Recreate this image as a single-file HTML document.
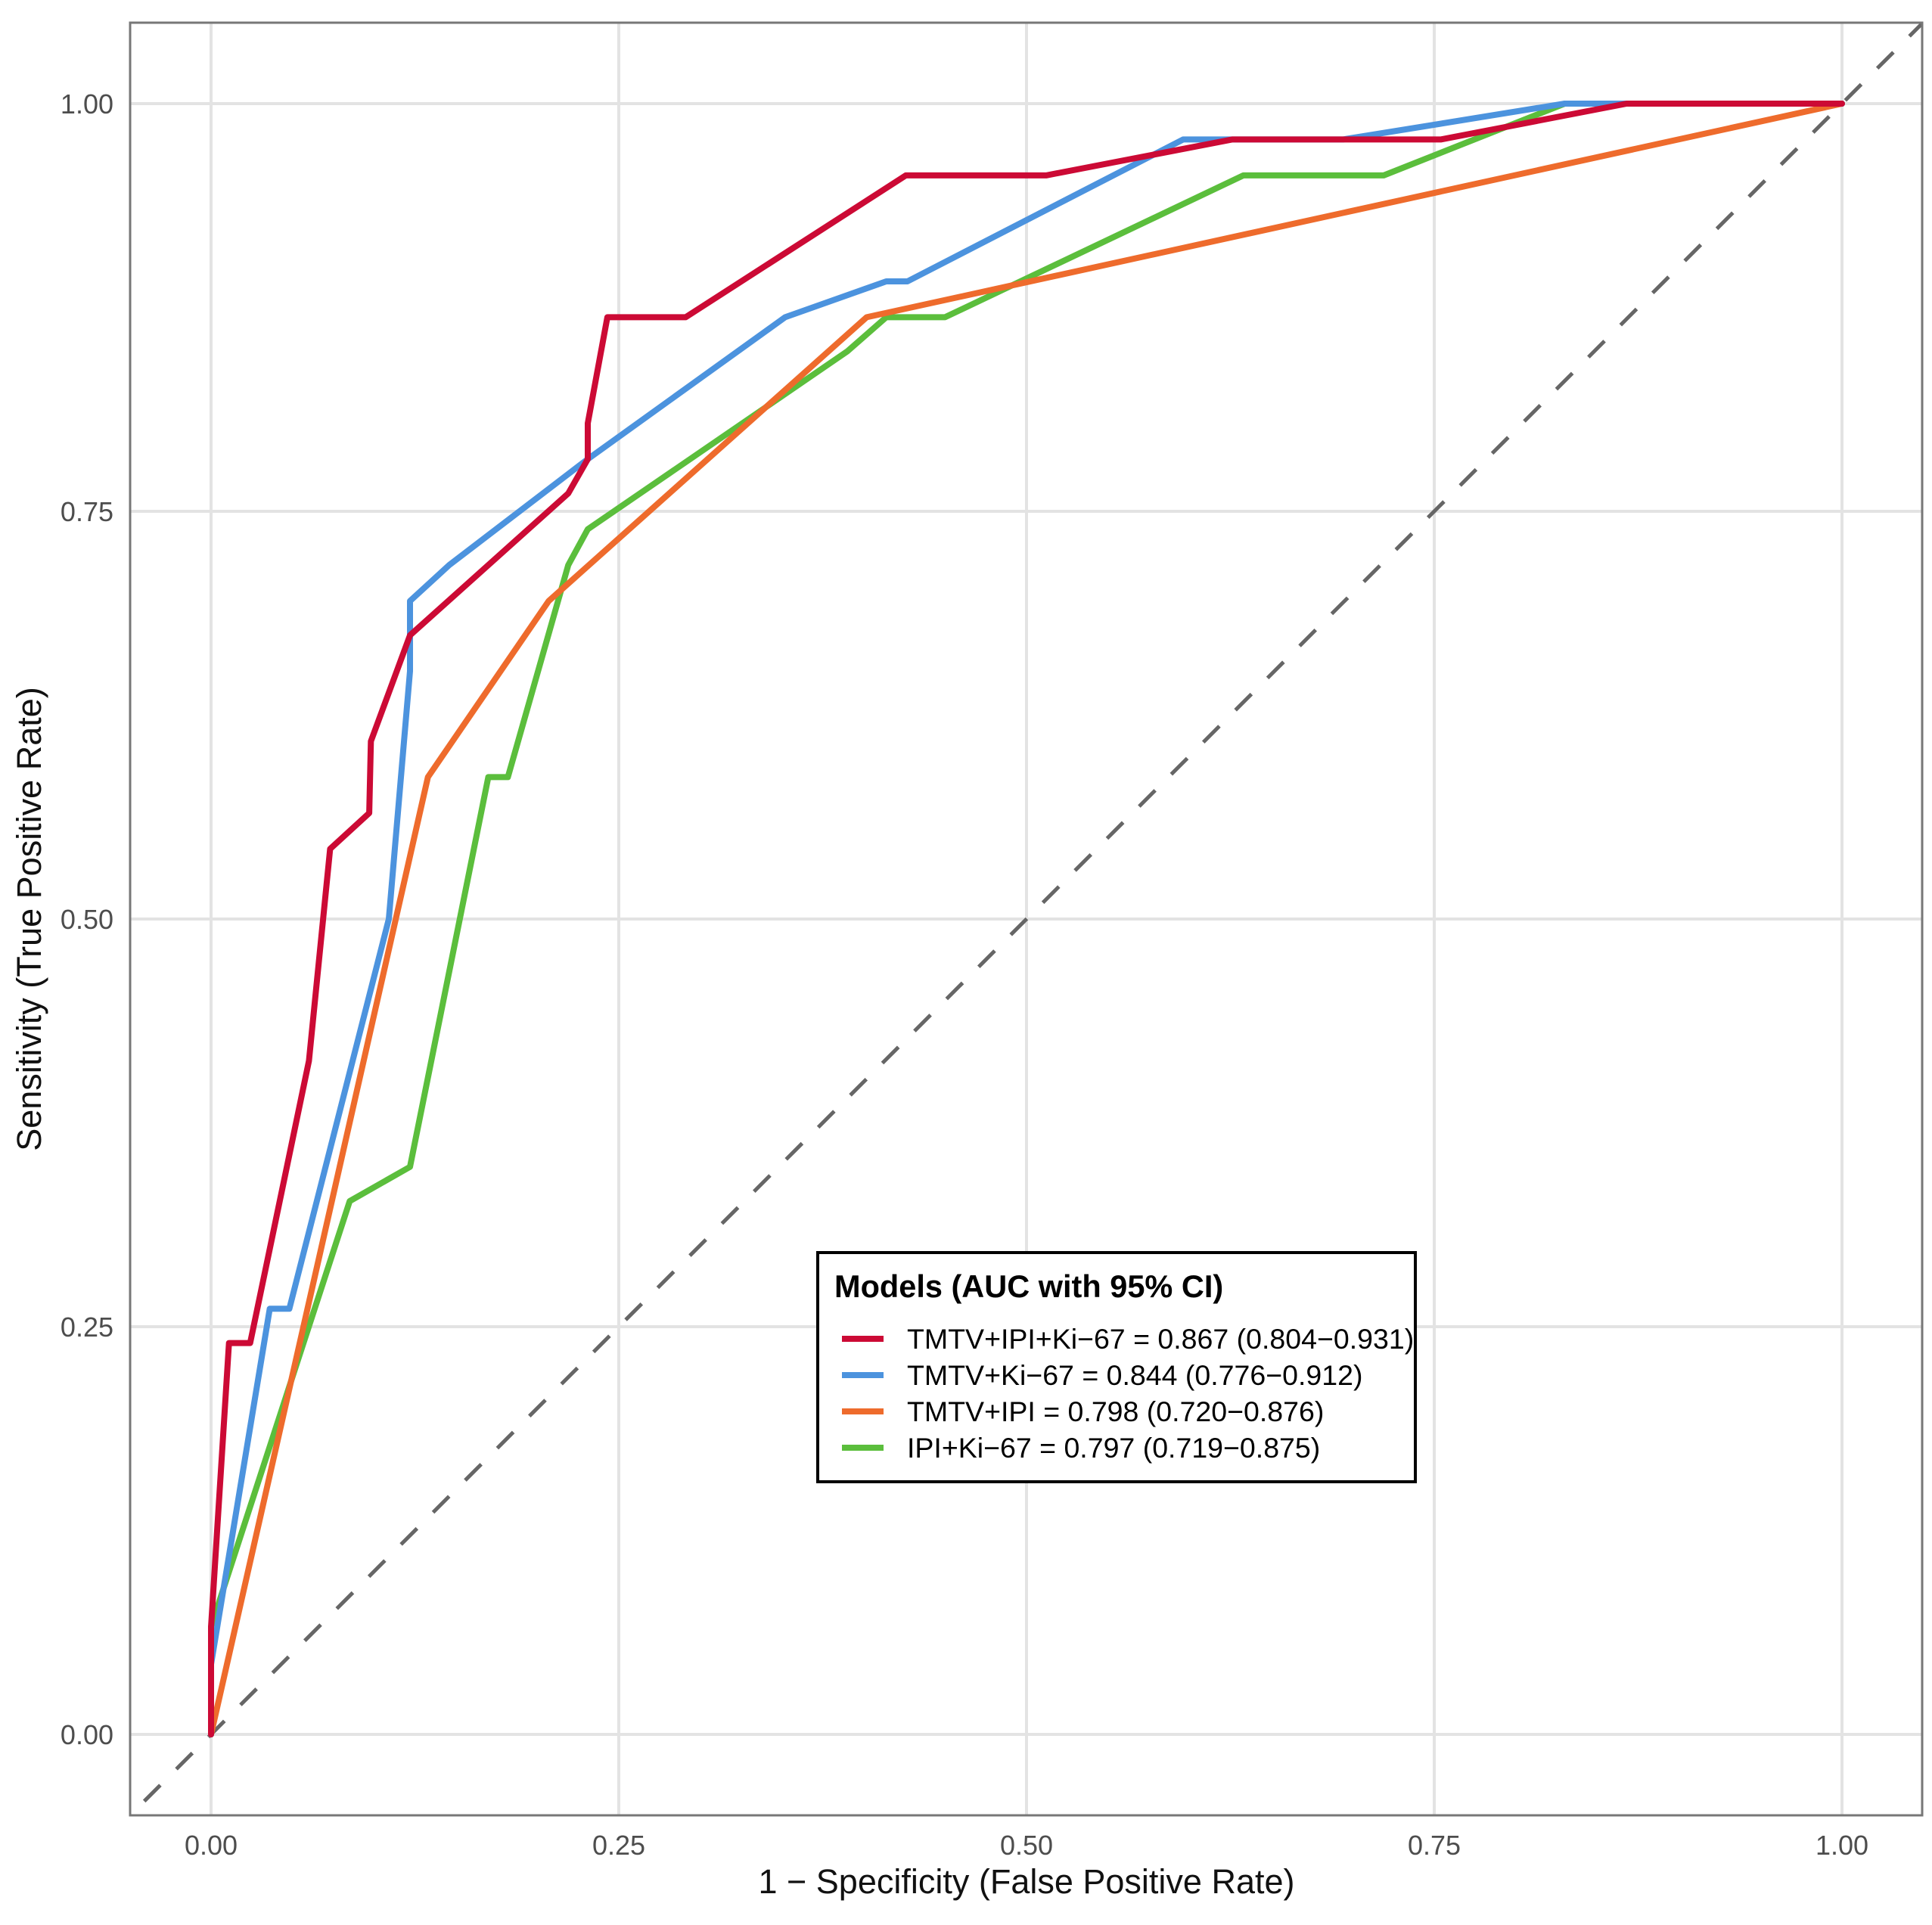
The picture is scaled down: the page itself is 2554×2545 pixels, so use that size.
<!DOCTYPE html>
<html><head><meta charset="utf-8"><style>
html,body{margin:0;padding:0;background:#fff;}
svg{display:block;font-family:"Liberation Sans",sans-serif;}
</style></head><body>
<svg id="chart" width="2554" height="2545" viewBox="0 0 2554 2545" xmlns="http://www.w3.org/2000/svg">
<defs><clipPath id="pclip"><rect x="172" y="30" width="2369" height="2370"/></clipPath></defs>
<rect x="0" y="0" width="2554" height="2545" fill="#fff"/>
<g id="grid"></g>
<g id="series" clip-path="url(#pclip)"></g>
<rect x="172" y="30" width="2369" height="2370" fill="none" stroke="#777" stroke-width="3"/>
<g id="ticks"></g>
<text x="1357" y="2503" text-anchor="middle" font-size="45" fill="#111">1 − Specificity (False Positive Rate)</text>
<text transform="translate(54,1215) rotate(-90)" text-anchor="middle" font-size="45" fill="#111">Sensitivity (True Positive Rate)</text>
<g id="legend">
<rect x="1081" y="1656" width="790" height="303" fill="#fff" stroke="#000" stroke-width="4"/>
<text x="1103" y="1715" font-size="41.5" font-weight="bold" fill="#000">Models (AUC with 95% CI)</text>
</g>
</svg>
<script>
const ticks = [0, 0.25, 0.5, 0.75, 1];
const tickLabels = ["0.00","0.25","0.50","0.75","1.00"];
const seriesNames = ["TMTV+IPI+Ki−67 = 0.867 (0.804−0.931)","TMTV+Ki−67 = 0.844 (0.776−0.912)","TMTV+IPI = 0.798 (0.720−0.876)","IPI+Ki−67 = 0.797 (0.719−0.875)"];
const seriesColors = ["#CC0A35","#4C93DE","#EE6B2C","#5BBE3C"];
const redX = [0,0,0.011,0.024,0.060,0.073,0.097,0.098,0.122,0.219,0.231,0.231,0.243,0.291,0.426,0.512,0.626,0.754,0.868,1];
const redY = [0,0.066,0.240,0.240,0.413,0.543,0.565,0.609,0.674,0.761,0.782,0.804,0.869,0.869,0.956,0.956,0.978,0.978,1,1];
const blueX = [0,0,0.036,0.048,0.109,0.122,0.122,0.146,0.231,0.352,0.414,0.427,0.596,0.694,0.830,1];
const blueY = [0,0.043,0.261,0.261,0.500,0.652,0.695,0.717,0.782,0.869,0.891,0.891,0.978,0.978,1,1];
const orangeX = [0,0.133,0.207,0.402,1];
const orangeY = [0,0.587,0.695,0.869,1];
const greenX = [0,0,0.085,0.122,0.170,0.182,0.219,0.231,0.390,0.414,0.450,0.633,0.719,0.830,1];
const greenY = [0,0.066,0.327,0.348,0.587,0.587,0.717,0.739,0.848,0.869,0.869,0.956,0.956,1,1];

const NS="http://www.w3.org/2000/svg";
const sx = v => 279 + v*2156;
const sy = v => 2293 - v*2156;
function mk(tag, attrs, parent){const e=document.createElementNS(NS,tag);for(const k in attrs)e.setAttribute(k,attrs[k]);parent.appendChild(e);return e;}
const grid=document.getElementById('grid'), tg=document.getElementById('ticks'), sg=document.getElementById('series');
ticks.forEach((t,i)=>{
  const gv=mk('line',{x1:sx(t),x2:sx(t),y1:30,y2:2400,stroke:'#e3e3e3','stroke-width':4},grid);
  
  
  const gh=mk('line',{x1:172,x2:2541,y1:sy(t),y2:sy(t),stroke:'#e3e3e3','stroke-width':4},grid);
  
  
  const xl=mk('text',{x:sx(t),y:2452,'text-anchor':'middle','font-size':36,fill:'#4d4d4d'},tg);
  xl.textContent=tickLabels[i];
  
  
  const yl=mk('text',{x:150,y:sy(t)+13,'text-anchor':'end','font-size':36,fill:'#4d4d4d'},tg);
  yl.textContent=tickLabels[i];
  
  
});
const diag=mk('line',{x1:sx(-0.1),y1:sy(-0.1),x2:sx(1.2),y2:sy(1.2),stroke:'#666','stroke-width':5,'stroke-dasharray':'30 30'},sg);


const xs=[redX,blueX,orangeX,greenX], ys=[redY,blueY,orangeY,greenY];
const names=['roc-tmtv-ipi-ki67','roc-tmtv-ki67','roc-tmtv-ipi','roc-ipi-ki67'];
for(let s=3;s>=0;s--){
  const pts=xs[s].map((x,i)=>sx(x).toFixed(1)+','+sy(ys[s][i]).toFixed(1)).join(' ');
  const pl=mk('polyline',{points:pts,fill:'none',stroke:seriesColors[s],'stroke-width':8,'stroke-linejoin':'round','stroke-linecap':'round'},sg);
  
  
}
const lg=document.getElementById('legend');
seriesNames.forEach((n,i)=>{
  const cy=1770+i*48;
  const k=mk('line',{x1:1113,x2:1168,y1:cy,y2:cy,stroke:seriesColors[i],'stroke-width':8},lg);
  
  
  const t=mk('text',{x:1199,y:cy+13,'font-size':37.5,fill:'#000'},lg);
  t.textContent=n;
  
  
});
</script>
</body></html>
